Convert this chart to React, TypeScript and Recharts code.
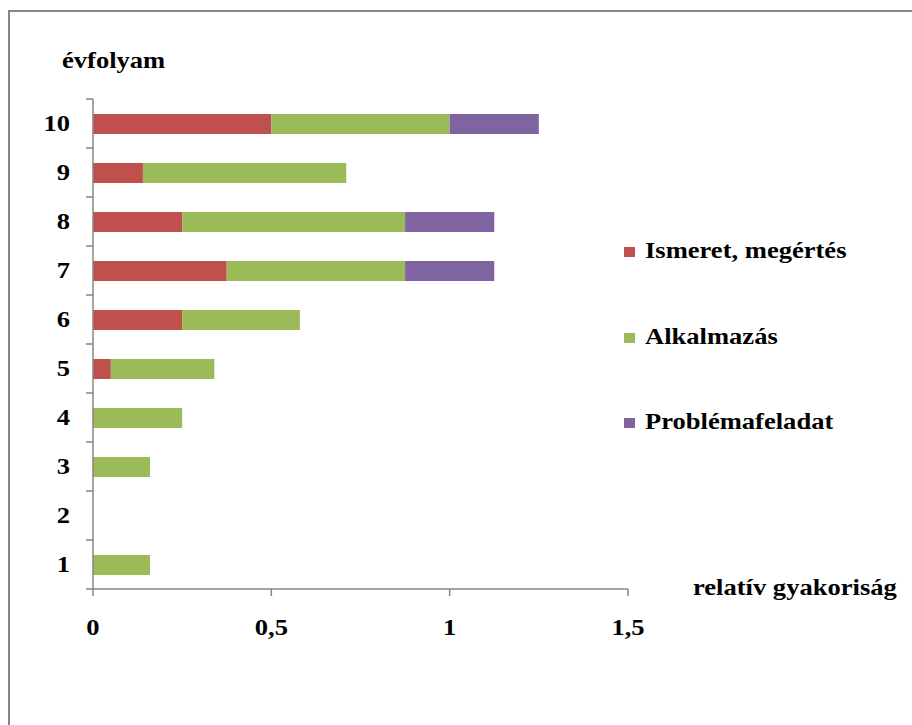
import React from "react";
import { BarChart, Bar, XAxis, YAxis, Legend } from "recharts";

const categories = ["10", "9", "8", "7", "6", "5", "4", "3", "2", "1"];
const ismeret = [0.5, 0.14, 0.25, 0.375, 0.25, 0.05, 0, 0, 0, 0];
const alkalmazas = [0.5, 0.57, 0.625, 0.5, 0.33, 0.29, 0.25, 0.16, 0, 0.16];
const problema = [0.25, 0, 0.25, 0.25, 0, 0, 0, 0, 0, 0];
const xTicks = [0, 0.5, 1, 1.5];

const seriesNames = ["Ismeret, megértés", "Alkalmazás", "Problémafeladat"];
const seriesColors = ["#C0504D", "#9BBB59", "#8064A2"];

const data = categories.map((c, i) => ({
  cat: c,
  ismeret: ismeret[i],
  alkalmazas: alkalmazas[i],
  problema: problema[i],
}));

const FONT = "'Liberation Serif', 'Times New Roman', serif";
const AXIS = "#868686";
const FS = 22.5;
const SX = 1.18;

const XTick = (props: any) => {
  const { x, y, payload } = props;
  return (
    <g transform={`translate(${x},${y})`}>
      <text
        transform={`scale(${SX},1)`}
        textAnchor="middle"
        dy="0.71em"
        fontFamily={FONT}
        fontWeight="bold"
        fontSize={FS}
        fill="#000"
      >
        {String(payload.value).replace(".", ",")}
      </text>
    </g>
  );
};

const YTick = (props: any) => {
  const { x, y, payload, index } = props;
  const off = payload.offset ?? 24.5;
  return (
    <g>
      <line x1={x + 16} x2={x + 23} y1={y + off} y2={y + off} stroke={AXIS} strokeWidth={1.5} />
      {index === 0 && (
        <line x1={x + 16} x2={x + 23} y1={y - off} y2={y - off} stroke={AXIS} strokeWidth={1.5} />
      )}
      <g transform={`translate(${x},${y})`}>
        <text
          transform={`scale(${SX},1)`}
          textAnchor="end"
          dy="0.34em"
          fontFamily={FONT}
          fontWeight="bold"
          fontSize={FS}
          fill="#000"
        >
          {payload.value}
        </text>
      </g>
    </g>
  );
};

const LegendContent = () => (
  <div style={{ fontFamily: FONT, fontWeight: "bold", fontSize: FS }}>
    {seriesNames.map((n, i) => (
      <div key={n} style={{ height: 85.5, display: "flex", alignItems: "flex-start", whiteSpace: "nowrap" }}>
        <span
          style={{
            display: "inline-block",
            width: 11,
            height: 10,
            background: seriesColors[i],
            marginTop: 9,
            marginRight: 10,
          }}
        />
        <span style={{ display: "inline-block", transform: `scaleX(${SX})`, transformOrigin: "left center", lineHeight: "26px" }}>
          {n}
        </span>
      </div>
    ))}
  </div>
);

const textStyle: React.CSSProperties = {
  position: "absolute",
  fontFamily: FONT,
  fontWeight: "bold",
  fontSize: FS,
  transform: `scaleX(${SX})`,
  transformOrigin: "left top",
  whiteSpace: "nowrap",
  lineHeight: "26px",
};

export default function App() {
  return (
    <div
      style={{
        position: "absolute",
        left: 0,
        top: 0,
        width: 912,
        height: 725,
        overflow: "hidden",
        background: "#fff",
      }}
    >
      <div
        style={{
          position: "absolute",
          left: 8,
          top: 10,
          width: 1000,
          height: 1000,
          border: `2px solid ${AXIS}`,
        }}
      />
      <div style={{ position: "absolute", left: 0, top: 0 }}>
        <BarChart
          width={912}
          height={725}
          data={data}
          layout="vertical"
          margin={{ top: 99, right: 284, bottom: 96, left: 0 }}
          barSize={20}
        >
          <XAxis
            type="number"
            domain={[0, 1.5]}
            ticks={xTicks}
            height={40}
            stroke={AXIS}
            strokeWidth={1.5}
            tickSize={7}
            tickMargin={23}
            tick={<XTick />}
            interval={0}
          />
          <YAxis
            type="category"
            dataKey="cat"
            width={93}
            stroke={AXIS}
            strokeWidth={1.5}
            tickSize={7}
            tickMargin={16}
            tickLine={false}
            tick={<YTick />}
            interval={0}
          />
          <Legend
            layout="horizontal"
            verticalAlign="middle"
            align="center"
            wrapperStyle={{ left: 624, top: 238, width: 280 }}
            content={<LegendContent />}
          />
          <Bar dataKey="ismeret" stackId="a" fill={seriesColors[0]} name={seriesNames[0]} isAnimationActive={false} />
          <Bar dataKey="alkalmazas" stackId="a" fill={seriesColors[1]} name={seriesNames[1]} isAnimationActive={false} />
          <Bar dataKey="problema" stackId="a" fill={seriesColors[2]} name={seriesNames[2]} isAnimationActive={false} />
        </BarChart>
      </div>
      <div style={{ ...textStyle, left: 62, top: 48 }}>évfolyam</div>
      <div style={{ ...textStyle, left: 693, top: 575 }}>relatív gyakoriság</div>
    </div>
  );
}
